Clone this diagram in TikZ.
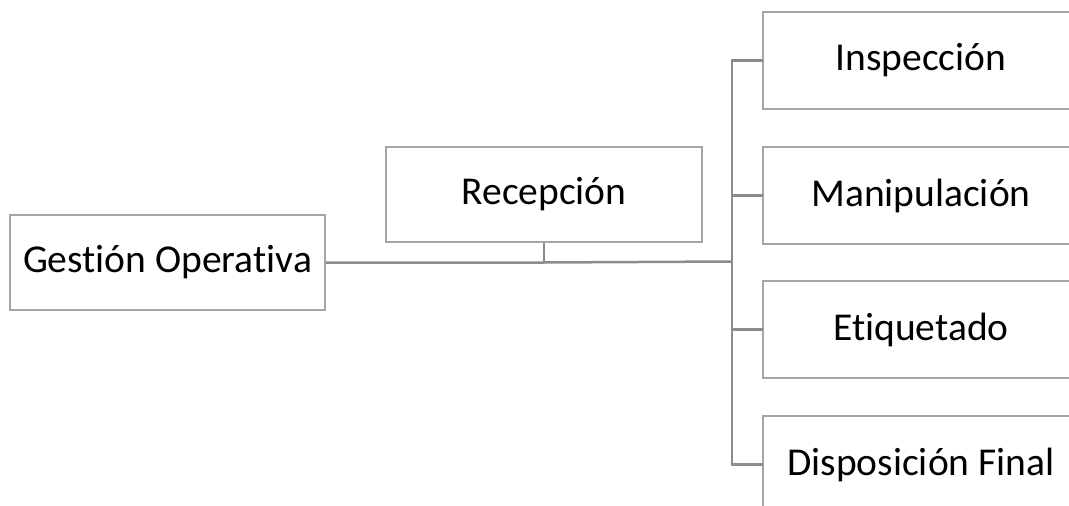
\documentclass[tikz,border=0pt]{standalone}
\usepackage{fontspec}
\setmainfont{Carlito}[Ligatures={NoCommon,NoRequired,NoContextual}]
\definecolor{boxline}{HTML}{A5A5A5}
\definecolor{conn}{HTML}{8C8C8C}
\begin{document}
\begin{tikzpicture}[x=1pt,y=-1pt,
  box/.style={draw=boxline,line width=2pt,fill=white,minimum width=314pt,minimum height=95pt,inner sep=0pt,font=\fontsize{39.5}{46}\selectfont,anchor=north west},
  openbox/.style={box,draw=none},
  edge/.style={draw=boxline,line width=2pt},
  conn/.style={draw=conn,line width=2.5pt}]
\useasboundingbox (0,0) rectangle (1069,506);
\clip (0,0) rectangle (1069,506);
\node[box,minimum width=315pt] (g) at (9,214) {Gestión Operativa};
\node[box,minimum width=316pt] (r) at (385,146) {Recepción};
\node[openbox] (i) at (763,12) {Inspección};
\node[openbox] (m) at (763,147) {Manipulación};
\node[openbox] (e) at (763,281) {Etiquetado};
\node[openbox] (d) at (763,416) {Disposición Final};
\foreach \n in {i,m,e,d}{
  \draw[edge] ([xshift=40pt]\n.north east) -- (\n.north west) -- (\n.south west) -- ([xshift=40pt]\n.south east);
}
\coordinate (bus) at (732,261.5);
\draw[conn] (g.east) -- (r.south |- g.east) -- (bus);
\draw[conn] (r.south) -- (r.south |- g.east);
\draw[conn] (i.west) -| (bus) |- (d.west);
\draw[conn] (bus |- m.west) -- (m.west);
\draw[conn] (bus |- e.west) -- (e.west);
\end{tikzpicture}
\end{document}
